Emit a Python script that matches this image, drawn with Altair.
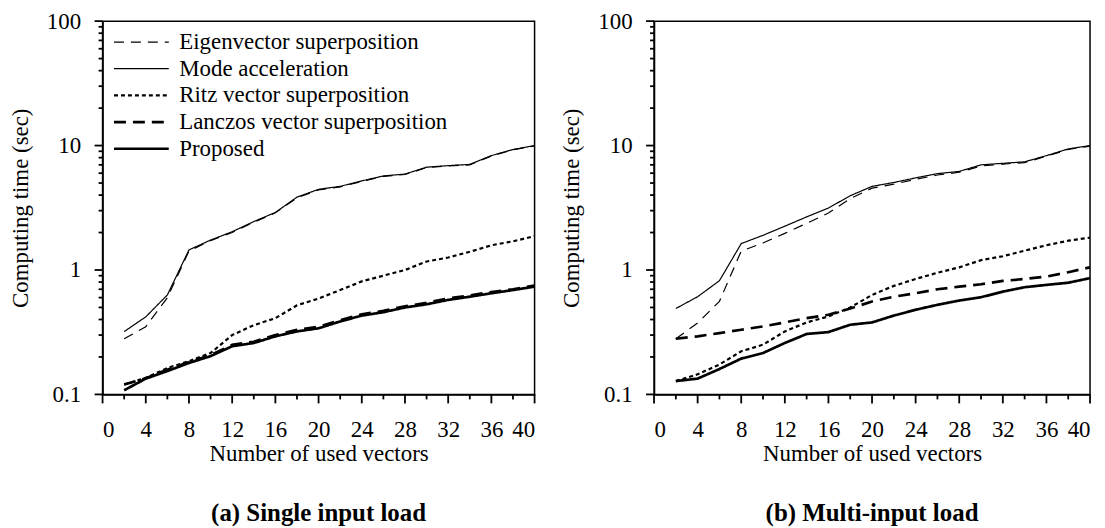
import altair as alt
import pandas as pd

# ---------------- data ----------------
n_vectors = [2, 4, 6, 8, 10, 12, 14, 16, 18, 20, 22, 24, 26, 28, 30, 32, 34, 36, 38, 40]
methods = ["Eigenvector superposition", "Mode acceleration", "Ritz vector superposition",
           "Lanczos vector superposition", "Proposed"]

# (a) Single input load
a_eigen   = [0.28, 0.35, 0.60, 1.42, 1.72, 2.00, 2.42, 2.88, 3.80, 4.40, 4.65, 5.15, 5.65, 5.85, 6.65, 6.85, 7.00, 8.25, 9.25, 9.95]
a_mode    = [0.32, 0.42, 0.63, 1.45, 1.74, 2.03, 2.45, 2.90, 3.85, 4.45, 4.70, 5.20, 5.70, 5.90, 6.70, 6.90, 7.05, 8.30, 9.30, 10.0]
a_ritz    = [0.12, 0.136, 0.163, 0.185, 0.215, 0.30, 0.36, 0.41, 0.52, 0.59, 0.69, 0.81, 0.90, 1.00, 1.17, 1.26, 1.40, 1.58, 1.70, 1.87]
a_lanczos = [0.12, 0.135, 0.158, 0.182, 0.207, 0.25, 0.265, 0.30, 0.33, 0.35, 0.395, 0.44, 0.47, 0.51, 0.545, 0.59, 0.625, 0.665, 0.70, 0.75]
a_prop    = [0.108, 0.134, 0.154, 0.179, 0.203, 0.244, 0.259, 0.293, 0.321, 0.34, 0.386, 0.43, 0.458, 0.50, 0.53, 0.575, 0.61, 0.65, 0.69, 0.735]

# (b) Multi-input load
b_eigen   = [0.28, 0.375, 0.56, 1.42, 1.65, 1.97, 2.37, 2.87, 3.75, 4.55, 4.90, 5.35, 5.80, 6.10, 6.85, 7.10, 7.30, 8.20, 9.30, 9.90]
b_mode    = [0.49, 0.61, 0.82, 1.63, 1.90, 2.25, 2.67, 3.15, 3.95, 4.70, 5.05, 5.50, 5.95, 6.20, 7.00, 7.20, 7.40, 8.30, 9.40, 10.0]
b_ritz    = [0.128, 0.145, 0.174, 0.222, 0.251, 0.321, 0.379, 0.423, 0.50, 0.63, 0.745, 0.847, 0.95, 1.05, 1.20, 1.29, 1.43, 1.58, 1.72, 1.82]
b_lanczos = [0.28, 0.293, 0.311, 0.331, 0.352, 0.379, 0.41, 0.437, 0.49, 0.558, 0.61, 0.65, 0.70, 0.735, 0.768, 0.817, 0.847, 0.885, 0.96, 1.05]
b_prop    = [0.128, 0.134, 0.16, 0.194, 0.215, 0.259, 0.306, 0.317, 0.363, 0.379, 0.43, 0.479, 0.525, 0.568, 0.604, 0.67, 0.727, 0.759, 0.79, 0.86]

x_major = [0, 4, 8, 12, 16, 20, 24, 28, 32, 36, 40]
x_minor = [2, 6, 10, 14, 18, 22, 26, 30, 34, 38]
y_major = [0.1, 1, 10, 100]
y_minor = [0.2, 0.3, 0.4, 0.5, 0.6, 0.7, 0.8, 0.9,
           2, 3, 4, 5, 6, 7, 8, 9,
           20, 30, 40, 50, 60, 70, 80, 90]

dashes = [[10, 7], [1, 0], [4, 3], [12, 7], [1, 0]]
widths = [1.2, 1.2, 2.2, 2.7, 2.7]

FONT = "Liberation Serif"
FS = 23
H = 375
X_TITLE = "Number of used vectors"
Y_TITLE = "Computing time (sec)"


def frame(series):
    rows = []
    for m, vals in zip(methods, series):
        for n, v in zip(n_vectors, vals):
            rows.append({"n": n, "t": v, "method": m})
    return pd.DataFrame(rows)


XSCALE = alt.Scale(domain=[0, 40], nice=False, zero=False)
YSCALE = alt.Scale(type="log", domain=[0.1, 100], nice=False)
XAXIS = alt.Axis(values=x_major, grid=False, ticks=False, format="d", labelPadding=24, titlePadding=1, zindex=0)
YAXIS = alt.Axis(values=y_major, grid=False, ticks=False, format="~g", labelPadding=22, titlePadding=14, zindex=0)


def xenc():
    return alt.X("n:Q", title=X_TITLE, scale=XSCALE, axis=XAXIS)


def yenc():
    return alt.Y("t:Q", title=Y_TITLE, scale=YSCALE, axis=YAXIS)


def panel(series, caption, w):
    df = frame(series)
    legend = alt.Legend(title=None, orient="none", legendX=10, legendY=10, padding=0,
                        symbolType="stroke", symbolSize=3025, symbolStrokeColor="black",
                        clipHeight=22, rowPadding=3.8, labelFont=FONT, labelFontSize=FS,
                        labelColor="black", labelOffset=9, labelLimit=400)
    lines = alt.Chart(df).mark_line(color="black").encode(
        x=xenc(), y=yenc(),
        strokeDash=alt.StrokeDash("method:O", scale=alt.Scale(type="ordinal", domain=methods, range=dashes), legend=legend),
        strokeWidth=alt.StrokeWidth("method:O", scale=alt.Scale(type="ordinal", domain=methods, range=widths), legend=legend),
        order=alt.Order("n:Q"),
    )

    def xticks(vals, length):
        return alt.Chart(pd.DataFrame({"n": vals})).mark_rule(color="black", strokeWidth=1.8, clip=False).encode(
            x=xenc(), y=alt.value(H), y2=alt.value(H + length))

    def yticks(vals, length):
        return alt.Chart(pd.DataFrame({"t": vals})).mark_rule(color="black", strokeWidth=1.8, clip=False).encode(
            y=yenc(), x=alt.value(0), x2=alt.value(-length))

    return alt.layer(lines, xticks(x_major, 9), xticks(x_minor, 5),
                     yticks(y_major, 8), yticks(y_minor, 4)).properties(
        width=w, height=H,
        title=alt.TitleParams(caption, orient="bottom", fontWeight="bold", fontSize=25,
                              font=FONT, color="black", offset=36),
    )


left = panel([a_eigen, a_mode, a_ritz, a_lanczos, a_prop], "(a) Single input load", 434)
right = panel([b_eigen, b_mode, b_ritz, b_lanczos, b_prop], "(b) Multi-input load", 438)

chart = alt.hconcat(left, right, spacing=18).properties(
    padding={"left": 0, "top": 0, "right": 0, "bottom": 0}
).configure_view(
    stroke="black", strokeWidth=1.5
).configure_axis(
    domainColor="black", domainWidth=1.5,
    labelFont=FONT, labelFontSize=FS, labelColor="black",
    titleFont=FONT, titleFontSize=FS, titleColor="black", titleFontWeight="normal",
).configure_legend(
    labelFont=FONT
)

chart.save("out.html", embed_options={"renderer": "svg", "actions": False})
